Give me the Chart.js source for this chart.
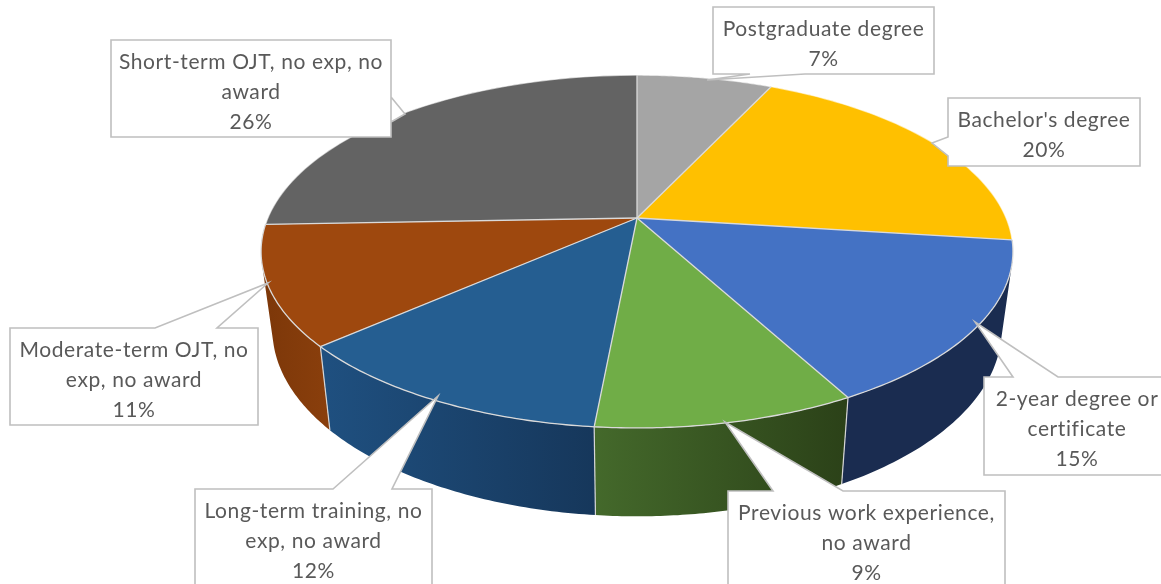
<!DOCTYPE html>
<html>
<head>
<meta charset="utf-8">
<style>
  html, body { margin: 0; padding: 0; background: #fff; overflow: hidden; }
</style>
<script src="https://cdn.jsdelivr.net/npm/chart.js@4"></script>
</head>
<body>
<canvas id="myChart" width="1161" height="584"></canvas>
<script>
// the slices' angles say a bit more than the rounded labels
const categories = [
    ['Postgraduate degree'],
    ["Bachelor's degree"],
    ['2-year degree or', 'certificate'],
    ['Previous work experience,', 'no award'],
    ['Long-term training, no', 'exp, no award'],
    ['Moderate-term OJT, no', 'exp, no award'],
    ['Short-term OJT, no exp, no', 'award']
];
const shares = [7, 20, 15.1, 9.4, 12, 10.9, 25.6];
const topColors = ['#A5A5A5', '#FFC000', '#4472C4', '#70AD47', '#255E91', '#9E480E', '#636363'];
// left and right colour of the side wall, only the slices facing us have one
const wallColors = [null, null, ['#1A2C50', '#1A2C50'], ['#44692B', '#2B4118'], ['#1F5080', '#16375B'], ['#7C3709', '#8A3F0C'], null];

// [left, top, right, bottom, tail start, tail tip, tail end]
const callouts = [
    [713, 7, 934, 74, [805, 74], [707, 80], [750, 74]],
    [948, 98, 1140, 166, [948, 156], [932, 143], [948, 137]],
    [984, 377, 1170, 475, [1013, 377], [975, 322], [1058, 377]],
    [728, 491, 1005, 600, [773, 491], [725, 422], [843, 491]],
    [195, 489, 432, 600, [333, 489], [438, 396], [392, 489]],
    [10, 328, 258, 425, [155, 328], [268, 283], [217, 328]],
    [111, 40, 391, 137, [391, 97], [405, 114], [391, 122]]
];

// the disc is seen in perspective, so the centre is not the middle of the ellipse
const topRim = { wide: 1.693, tall: 0.78, drop: 0, lean: 0.19 };
const lowRim = { wide: 1.642, tall: 0.826, drop: 76, lean: 0.19 };

function project(arc, angle, rim) {
    const x = Math.cos(angle), y = Math.sin(angle);
    const d = 1 - rim.lean * y;
    return [
        arc.x + arc.outerRadius * rim.wide * x / d,
        arc.y + rim.drop + arc.outerRadius * rim.tall * y / d
    ];
}

function angleSteps(arc) {
    const steps = [];
    const n = 60;
    for (let i = 0; i <= n; i++) {
        steps.push(arc.startAngle + (arc.endAngle - arc.startAngle) * i / n);
    }
    return steps;
}

function drawWall(ctx, arc, colors) {
    const steps = angleSteps(arc);
    const tops = steps.map(a => project(arc, a, topRim));
    const lows = steps.map(a => project(arc, a, lowRim));
    const xs = tops.concat(lows).map(p => p[0]);
    const grad = ctx.createLinearGradient(Math.min(...xs), 0, Math.max(...xs), 0);
    grad.addColorStop(0, colors[0]);
    grad.addColorStop(1, colors[1]);
    ctx.fillStyle = grad;
    // all quads in one path so no seams, and the sides get a straight silhouette
    ctx.beginPath();
    for (let i = 0; i < steps.length - 1; i++) {
        const quad = [tops[i], tops[i + 1], lows[i + 1], lows[i]];
        let area = 0;
        quad.forEach((p, k) => {
            const q = quad[(k + 1) % 4];
            area += p[0] * q[1] - q[0] * p[1];
        });
        // same winding for all, or nonzero fill cancels the overlaps
        if (area < 0) quad.reverse();
        ctx.moveTo(quad[0][0], quad[0][1]);
        for (let k = 1; k < 4; k++) ctx.lineTo(quad[k][0], quad[k][1]);
        ctx.closePath();
    }
    ctx.fill();
}

// the vertical line between two neighbouring walls
function drawWallEdge(ctx, arc) {
    const p = project(arc, arc.endAngle, topRim), q = project(arc, arc.endAngle, lowRim);
    ctx.strokeStyle = '#D6D6D6';
    ctx.lineWidth = 1.2;
    ctx.beginPath();
    ctx.moveTo(p[0], p[1]);
    ctx.lineTo(q[0], q[1]);
    ctx.stroke();
}

function drawTop(ctx, arc, color, front) {
    const rim = angleSteps(arc).map(a => project(arc, a, topRim));
    ctx.beginPath();
    ctx.moveTo(arc.x, arc.y);
    rim.forEach(p => ctx.lineTo(p[0], p[1]));
    ctx.closePath();
    ctx.fillStyle = color;
    ctx.fill();
    // the back of the rim nearly melts into the white page
    ctx.beginPath();
    rim.forEach((p, i) => i ? ctx.lineTo(p[0], p[1]) : ctx.moveTo(p[0], p[1]));
    ctx.strokeStyle = front ? '#DADADA' : 'rgba(255,255,255,0.6)';
    ctx.lineWidth = 1.3;
    ctx.stroke();
}

function drawSpoke(ctx, arc) {
    const p = project(arc, arc.startAngle, topRim);
    ctx.beginPath();
    ctx.moveTo(arc.x, arc.y);
    ctx.lineTo(p[0], p[1]);
    ctx.strokeStyle = '#DADADA';
    ctx.lineWidth = 1.3;
    ctx.stroke();
}

function drawCallout(ctx, box, lines) {
    const [left, top, right, bottom, tailA, tip, tailB] = box;
    ctx.beginPath();
    ctx.moveTo(left, top);
    // walk clockwise and put the tail in on the edge it belongs to
    if (tailA[1] === top) { ctx.lineTo(tailA[0], top); ctx.lineTo(tip[0], tip[1]); ctx.lineTo(tailB[0], top); }
    ctx.lineTo(right, top);
    if (tailA[0] === right) { ctx.lineTo(right, tailB[1]); ctx.lineTo(tip[0], tip[1]); ctx.lineTo(right, tailA[1]); }
    ctx.lineTo(right, bottom);
    if (tailA[1] === bottom) { ctx.lineTo(tailA[0], bottom); ctx.lineTo(tip[0], tip[1]); ctx.lineTo(tailB[0], bottom); }
    ctx.lineTo(left, bottom);
    if (tailA[0] === left) { ctx.lineTo(left, tailA[1]); ctx.lineTo(tip[0], tip[1]); ctx.lineTo(left, tailB[1]); }
    ctx.closePath();
    ctx.fillStyle = '#FFFFFF';
    ctx.fill();
    ctx.strokeStyle = '#BFBFBF';
    ctx.lineWidth = 1.6;
    ctx.stroke();

    ctx.fillStyle = '#595959';
    ctx.font = '21px Lato';
    ctx.letterSpacing = '0.6px';
    ctx.textAlign = 'center';
    ctx.textBaseline = 'alphabetic';
    lines.forEach((line, i) => {
        ctx.fillText(line, (left + right) / 2, top + 28.5 + i * 30.3);
    });
}

const pie3d = {
    id: 'pie3d',
    // the library lays out the arcs, only the drawing is replaced
    beforeDatasetsDraw(chart) {
        const ctx = chart.ctx;
        const arcs = chart.getDatasetMeta(0).data;
        ctx.save();
        arcs.forEach((arc, i) => {
            if (wallColors[i]) drawWall(ctx, arc, wallColors[i]);
        });
        arcs.forEach((arc, i) => {
            if (wallColors[i] && wallColors[i + 1]) drawWallEdge(ctx, arc);
        });
        arcs.forEach((arc, i) => drawTop(ctx, arc, topColors[i], !!wallColors[i]));
        arcs.forEach(arc => drawSpoke(ctx, arc));
        ctx.restore();
        return false;
    },
    afterDraw(chart) {
        const ctx = chart.ctx;
        ctx.save();
        callouts.forEach((box, i) => {
            drawCallout(ctx, box, categories[i].concat(Math.round(shares[i]) + '%'));
        });
        ctx.restore();
    }
};

new Chart(document.getElementById('myChart').getContext('2d'), {
    type: 'pie',
    data: {
        labels: categories,
        datasets: [{ data: shares, backgroundColor: topColors, borderWidth: 0 }]
    },
    options: {
        responsive: false,
        animation: false,
        layout: { padding: { left: 113, bottom: 148 } },
        plugins: { legend: { display: false }, tooltip: { enabled: false } }
    },
    plugins: [pie3d]
});
</script>
</body>
</html>
